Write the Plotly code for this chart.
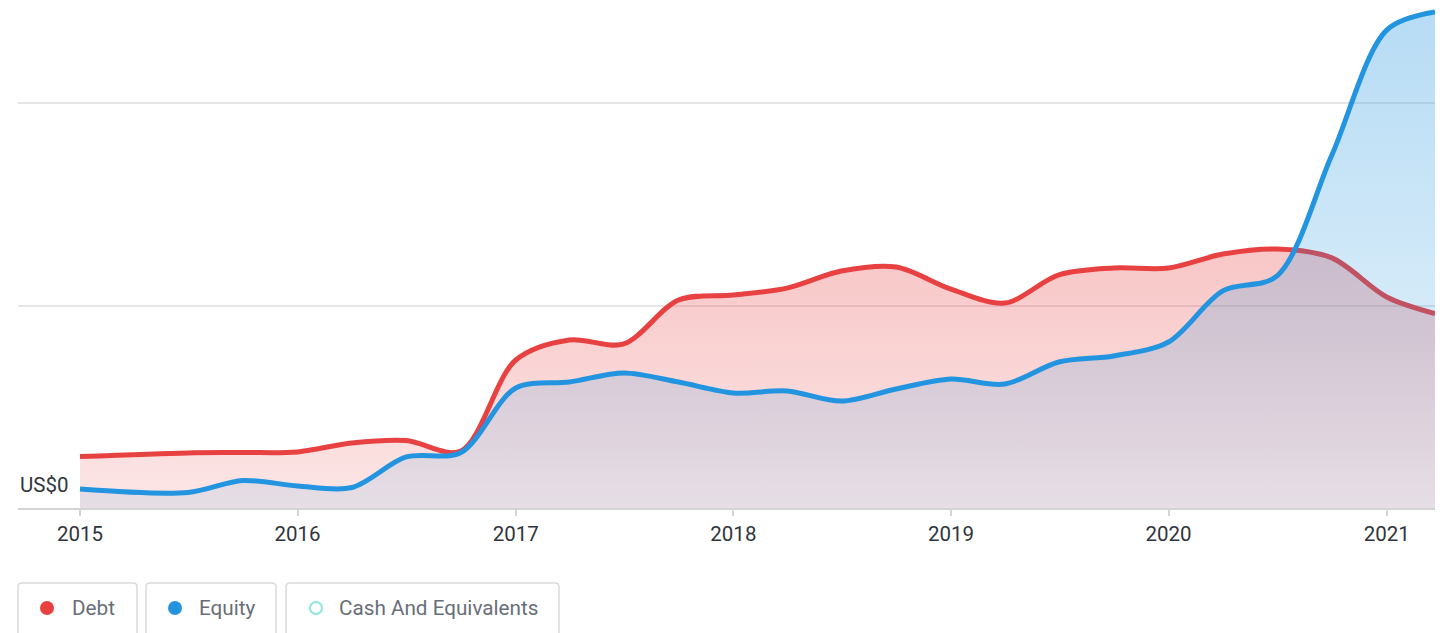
import plotly.graph_objects as go

# ---------------- data ----------------
dates = ["2015-01-01", "2015-07-01", "2015-10-01", "2016-01-01", "2016-04-01", "2016-07-01",
         "2016-10-01", "2017-01-01", "2017-04-01", "2017-07-01", "2017-10-01", "2018-01-01",
         "2018-04-01", "2018-07-01", "2018-10-01", "2019-01-01", "2019-04-01", "2019-07-01",
         "2019-10-01", "2020-01-01", "2020-04-01", "2020-07-01", "2020-10-01", "2021-01-01",
         "2021-03-23"]
debt = [25.4, 27.2, 27.4, 27.7, 32.1, 33.3, 28.1, 73.1, 83.0, 81.0, 102.7, 105.2,
        108.6, 117.0, 119.0, 108.1, 101.2, 115.1, 118.5, 118.5, 125.4, 127.9, 123.5, 104.2,
        96.0]
equity = [9.4, 7.7, 13.6, 10.9, 10.1, 25.2, 27.4, 59.3, 62.2, 66.7, 62.2, 56.8,
          57.8, 52.8, 58.8, 63.7, 61.2, 72.1, 75.1, 82.0, 107.2, 114.6, 174.3, 236.0,
          244.9]
year_ticks = ["2015-01-01", "2016-01-01", "2017-01-01", "2018-01-01", "2019-01-01",
              "2020-01-01", "2021-01-01"]
year_labels = ["2015", "2016", "2017", "2018", "2019", "2020", "2021"]
legend_names = ["Debt", "Equity", "Cash And Equivalents"]

# ---------------- styling ----------------
W, H = 1442, 633
ML, MR, MT, MB = 18, 7, 0, 125
PW, PH = W - ML - MR, H - MT - MB
RED = "rgb(232,65,66)"
BLUE = "rgb(35,148,223)"
TEAL = "rgb(140,232,218)"
FONT = "Roboto"

fig = go.Figure()

fig.add_trace(go.Scatter(
    x=dates, y=debt, mode="lines", name="Debt",
    line=dict(color=RED, width=5, shape="spline", smoothing=0.9),
    fill="tozeroy",
    fillgradient=dict(type="vertical", start=0, stop=max(debt),
                      colorscale=[[0, "rgba(232,65,66,0.13)"], [1, "rgba(232,65,66,0.30)"]]),
    hoverinfo="skip", showlegend=False,
))
fig.add_trace(go.Scatter(
    x=dates, y=equity, mode="lines", name="Equity",
    line=dict(color=BLUE, width=5, shape="spline", smoothing=0.9),
    fill="tozeroy",
    fillgradient=dict(type="vertical", start=0, stop=max(equity),
                      colorscale=[[0, "rgba(35,148,223,0.10)"], [1, "rgba(35,148,223,0.33)"]]),
    hoverinfo="skip", showlegend=False,
))


def px_x(px):
    return (px - ML) / PW


def px_y(py):
    return (MT + PH - py) / PH


shapes = []
annotations = []

# custom legend: boxed items
boxes = [(18, 137), (146, 276), (286, 559)]
dot_x = [47, 175, 316]
text_x = [70, 197, 337]
top, bottom = 583, 645
r = 4
for (x0, x1), dx, tx, name in zip(boxes, dot_x, text_x, legend_names):
    X0, X1 = px_x(x0), px_x(x1)
    Y0, Y1 = px_y(bottom), px_y(top)
    rx, ry = r / PW, r / PH
    path = (f"M {X0} {Y0} L {X0} {Y1 - ry} Q {X0} {Y1} {X0 + rx} {Y1} "
            f"L {X1 - rx} {Y1} Q {X1} {Y1} {X1} {Y1 - ry} L {X1} {Y0}")
    shapes.append(dict(type="path", xref="paper", yref="paper", path=path,
                       line=dict(color="rgb(218,218,218)", width=1.5), layer="above"))
    rad = 7
    if name == "Cash And Equivalents":
        shapes.append(dict(type="circle", xref="paper", yref="paper",
                           x0=px_x(dx - rad + 1), x1=px_x(dx + rad - 1),
                           y0=px_y(608 + rad - 1), y1=px_y(608 - rad + 1),
                           line=dict(color=TEAL, width=2), fillcolor="white"))
    else:
        col = RED if name == "Debt" else BLUE
        shapes.append(dict(type="circle", xref="paper", yref="paper",
                           x0=px_x(dx - rad), x1=px_x(dx + rad),
                           y0=px_y(608 + rad), y1=px_y(608 - rad),
                           line=dict(color=col, width=0), fillcolor=col))
    annotations.append(dict(text=name, xref="paper", yref="paper", x=px_x(tx), y=px_y(608),
                            xanchor="left", yanchor="middle", showarrow=False,
                            font=dict(family=FONT, size=20.7, color="rgb(105,110,120)")))

annotations.append(dict(text="US$0", xref="paper", yref="y", x=0, y=0, xanchor="left",
                        yanchor="middle", yshift=23, showarrow=False,
                        font=dict(family=FONT, size=20.5, color="rgb(48,52,60)")))

fig.update_layout(
    width=W, height=H,
    margin=dict(l=ML, r=MR, t=MT, b=MB),
    paper_bgcolor="white", plot_bgcolor="white",
    showlegend=False,
    shapes=shapes, annotations=annotations,
    xaxis=dict(type="date", range=["2014-09-19", "2021-03-23"],
               tickmode="array", tickvals=year_ticks, ticktext=year_labels,
               showgrid=False, showline=True, linecolor="rgb(212,212,212)", linewidth=2,
               ticks="outside", ticklen=6, tickwidth=1.5, tickcolor="rgb(212,212,212)",
               tickfont=dict(family=FONT, size=20.5, color="rgb(48,52,60)"),
               zeroline=False, fixedrange=True),
    yaxis=dict(range=[0, PH / 2.025], tickmode="array", tickvals=[100, 200],
               showticklabels=False, showgrid=True, gridcolor="rgb(230,230,230)", gridwidth=1.5,
               zeroline=False, showline=False, fixedrange=True),
)

fig.write_html("out.html", config={"displayModeBar": False},
               post_script="document.body.style.margin='0';document.body.style.overflow='hidden';")
